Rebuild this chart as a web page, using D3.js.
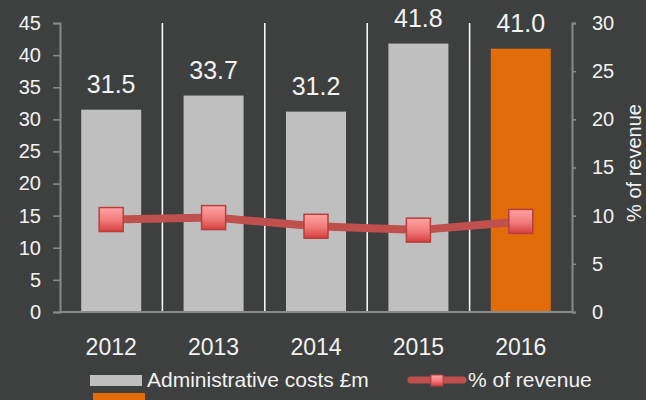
<!DOCTYPE html>
<html>
<head>
<meta charset="utf-8">
<script src="https://cdn.jsdelivr.net/npm/d3@7"></script>
<style>
  html, body { margin: 0; padding: 0; background: #3e403f; }
  svg { display: block; font-family: "Liberation Sans", Arial, sans-serif; }
</style>
</head>
<body>
<svg id="chart" width="646" height="400"></svg>
<script>
// chart data
const years = ['2012', '2013', '2014', '2015', '2016'];
const adminCosts = [31.5, 33.7, 31.2, 41.8, 41.0];
const pctRevenue = [9.6, 9.8, 8.9, 8.5, 9.4];
const leftTicks = [0, 5, 10, 15, 20, 25, 30, 35, 40, 45];
const rightTicks = [0, 5, 10, 15, 20, 25, 30];

const grey = '#bfbfbf';
const orange = '#e36c0a';
const red = '#c0504d';
const textCol = '#f2f2f2';
const axisCol = '#8a8a8a';

const svg = d3.select('#chart');
const plotLeft = 60, plotRight = 572, plotTop = 23, plotBottom = 312;

const x = d3.scaleBand().domain(years).range([plotLeft, plotRight])
  .paddingInner(0.414).paddingOuter(0.207);
const yL = d3.scaleLinear().domain([0, 45]).range([plotBottom, plotTop]);
const yR = d3.scaleLinear().domain([0, 30]).range([plotBottom, plotTop]);

// gradient for the markers
const defs = svg.append('defs');
const grad = defs.append('linearGradient').attr('id', 'markerGrad')
  .attr('x1', 0).attr('y1', 0).attr('x2', 0).attr('y2', 1);
grad.append('stop').attr('offset', '0%').attr('stop-color', '#ffa3a3');
grad.append('stop').attr('offset', '55%').attr('stop-color', '#f07a7a');
grad.append('stop').attr('offset', '100%').attr('stop-color', '#d63d3d');

// bars
svg.append('g').selectAll('rect')
  .data(years)
  .join('rect')
  .attr('x', d => x(d))
  .attr('y', (d, i) => yL(adminCosts[i]))
  .attr('width', x.bandwidth())
  .attr('height', (d, i) => yL(0) - yL(adminCosts[i]))
  .attr('fill', (d, i) => i === years.length - 1 ? orange : grey);

// separators between years
svg.append('g').selectAll('line')
  .data(years.slice(1))
  .join('line')
  .attr('x1', d => x(d) - x.step() * x.paddingInner() / 2)
  .attr('x2', d => x(d) - x.step() * x.paddingInner() / 2)
  .attr('y1', plotTop)
  .attr('y2', plotBottom)
  .attr('stroke', '#ffffff')
  .attr('stroke-width', 1.5);

// value labels
svg.append('g').selectAll('text')
  .data(years)
  .join('text')
  .attr('x', d => x(d) + x.bandwidth() / 2)
  .attr('y', (d, i) => yL(adminCosts[i]) - 17)
  .attr('text-anchor', 'middle')
  .attr('fill', textCol)
  .attr('font-size', 25)
  .text((d, i) => adminCosts[i].toFixed(1));

// left axis
const axL = svg.append('g').attr('transform', `translate(${plotLeft},0)`)
  .call(d3.axisLeft(yL).tickValues(leftTicks).tickSize(7).tickPadding(12));
// right axis
const axR = svg.append('g').attr('transform', `translate(${plotRight},0)`)
  .call(d3.axisRight(yR).tickValues(rightTicks).tickSize(4).tickPadding(16));
[axL, axR].forEach(ax => {
  ax.select('.domain').attr('stroke', axisCol).attr('stroke-width', 2);
  ax.selectAll('.tick line').attr('stroke', axisCol).attr('stroke-width', 1.5);
  ax.selectAll('.tick text').attr('fill', textCol).attr('font-size', 20)
    .attr('font-family', '"Liberation Sans", Arial, sans-serif');
});

// bottom axis line
svg.append('line')
  .attr('x1', plotLeft).attr('x2', plotRight)
  .attr('y1', plotBottom).attr('y2', plotBottom)
  .attr('stroke', axisCol).attr('stroke-width', 2);

// year labels
svg.append('g').selectAll('text')
  .data(years)
  .join('text')
  .attr('x', d => x(d) + x.bandwidth() / 2)
  .attr('y', 355)
  .attr('text-anchor', 'middle')
  .attr('fill', textCol)
  .attr('font-size', 23)
  .text(d => d);

// right axis title
svg.append('text')
  .attr('transform', 'translate(641,163) rotate(-90)')
  .attr('text-anchor', 'middle')
  .attr('fill', textCol)
  .attr('font-size', 20)
  .text('% of revenue');

// revenue line
const line = d3.line()
  .x((d, i) => x(years[i]) + x.bandwidth() / 2)
  .y(d => yR(d));
svg.append('path')
  .datum(pctRevenue)
  .attr('d', line)
  .attr('fill', 'none')
  .attr('stroke', red)
  .attr('stroke-width', 8);

const ms = 24;
svg.append('g').selectAll('rect')
  .data(pctRevenue)
  .join('rect')
  .attr('x', (d, i) => x(years[i]) + x.bandwidth() / 2 - ms / 2)
  .attr('y', d => yR(d) - ms / 2)
  .attr('width', ms)
  .attr('height', ms)
  .attr('fill', 'url(#markerGrad)')
  .attr('stroke', '#b5403e')
  .attr('stroke-width', 1.5);

// legend
const lg = svg.append('g');
lg.append('rect').attr('x', 90).attr('y', 375).attr('width', 52).attr('height', 11).attr('fill', grey);
lg.append('rect').attr('x', 93).attr('y', 393).attr('width', 52).attr('height', 11).attr('fill', orange);
lg.append('text').attr('x', 147).attr('y', 387).attr('fill', textCol).attr('font-size', 21)
  .text('Administrative costs £m');
lg.append('line').attr('x1', 411).attr('x2', 463).attr('y1', 380).attr('y2', 380)
  .attr('stroke', red).attr('stroke-width', 7).attr('stroke-linecap', 'round');
lg.append('rect').attr('x', 431).attr('y', 375).attr('width', 12).attr('height', 11)
  .attr('fill', 'url(#markerGrad)').attr('stroke', '#b5403e').attr('stroke-width', 1);
lg.append('text').attr('x', 468).attr('y', 387).attr('fill', textCol).attr('font-size', 21)
  .text('% of revenue');
</script>
</body>
</html>
